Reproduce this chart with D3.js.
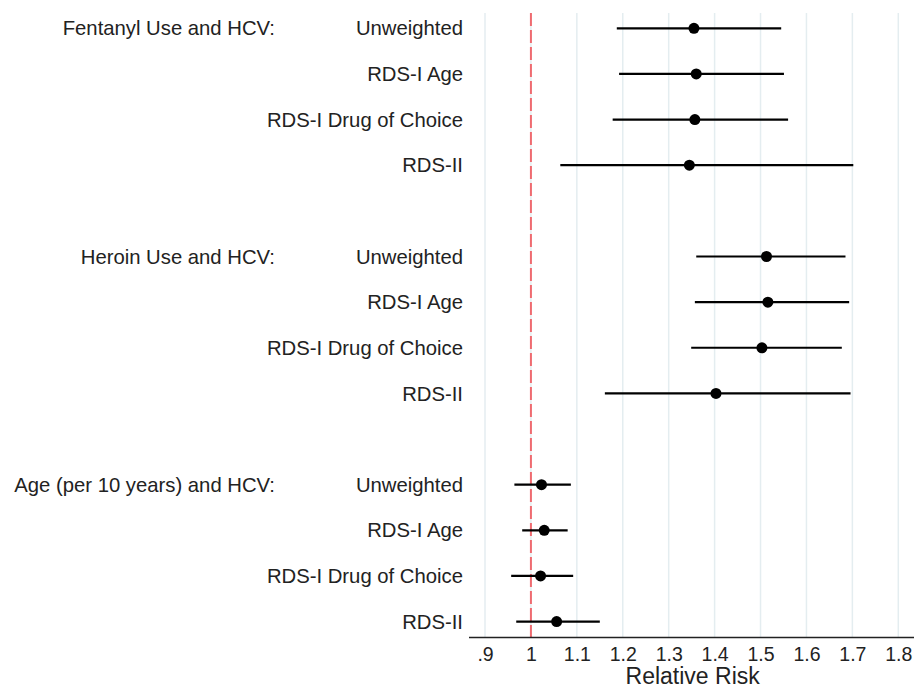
<!DOCTYPE html>
<html><head><meta charset="utf-8">
<script src="https://cdn.jsdelivr.net/npm/d3@7"></script>
<style>body{margin:0;background:#fff;}svg{display:block;font-family:Arial,"Liberation Sans",sans-serif;}</style>
</head><body><svg id="c" width="914" height="689"></svg>
<script>
const groups = ["Fentanyl Use and HCV:", "Heroin Use and HCV:", "Age (per 10 years) and HCV:"];
const methods = ["Unweighted", "RDS-I Age", "RDS-I Drug of Choice", "RDS-II"];
const estimates = [
  [1.355, 1.360, 1.357, 1.345],
  [1.513, 1.516, 1.503, 1.403],
  [1.023, 1.029, 1.021, 1.056]
];
const lower = [
  [1.187, 1.192, 1.178, 1.064],
  [1.360, 1.357, 1.349, 1.161],
  [0.964, 0.981, 0.957, 0.968]
];
const upper = [
  [1.545, 1.551, 1.560, 1.702],
  [1.685, 1.693, 1.677, 1.696],
  [1.087, 1.080, 1.092, 1.150]
];
const ticks = [0.9, 1.0, 1.1, 1.2, 1.3, 1.4, 1.5, 1.6, 1.7, 1.8];
const tickLabels = [".9", "1", "1.1", "1.2", "1.3", "1.4", "1.5", "1.6", "1.7", "1.8"];

const svg = d3.select("#c");
const x = d3.scaleLinear().domain([0.9, 1.8]).range([485, 898.3]);
const slots = d3.range(14);
const y = d3.scalePoint().domain(slots).range([28.3, 621.6]);

const rows = [];
groups.forEach((g, gi) => methods.forEach((m, mi) => {
  rows.push({g, m, gi, mi, slot: gi * 5 + mi, est: estimates[gi][mi], lo: lower[gi][mi], hi: upper[gi][mi]});
}));

// gridlines
svg.append("g").selectAll("line").data(ticks).join("line")
  .attr("x1", d => x(d)).attr("x2", d => x(d))
  .attr("y1", 13).attr("y2", 637)
  .attr("stroke", "#e4edf0").attr("stroke-width", 1.5);

// reference line
svg.append("line")
  .attr("x1", x(1)).attr("x2", x(1)).attr("y1", 13).attr("y2", 637)
  .attr("stroke", "#ef6b70").attr("stroke-width", 2).attr("stroke-dasharray", "13,4");

// x axis
const axis = d3.axisBottom(x).tickValues(ticks).tickFormat((d, i) => tickLabels[i]).tickSize(0).tickPadding(0);
const ax = svg.append("g").attr("transform", "translate(0,637.5)").call(axis);
ax.select(".domain").remove();
ax.selectAll("text").attr("y", 23).attr("dy", null).attr("font-size", 19.5).attr("fill", "#222")
  .attr("font-family", "Arial, 'Liberation Sans', sans-serif");
svg.append("line").attr("x1", 469).attr("x2", 914).attr("y1", 637.5).attr("y2", 637.5)
  .attr("stroke", "#222").attr("stroke-width", 1.6);

svg.append("text").attr("x", x(1.35) + 1).attr("y", 684.2).attr("text-anchor", "middle")
  .attr("font-size", 23).attr("fill", "#222").text("Relative Risk");

// CI lines
svg.append("g").selectAll("line").data(rows).join("line")
  .attr("x1", d => x(d.lo)).attr("x2", d => x(d.hi))
  .attr("y1", d => y(d.slot)).attr("y2", d => y(d.slot))
  .attr("stroke", "#000").attr("stroke-width", 2.2);
svg.append("g").selectAll("circle").data(rows).join("circle")
  .attr("cx", d => x(d.est)).attr("cy", d => y(d.slot)).attr("r", 5.5).attr("fill", "#000");

// labels
svg.append("g").selectAll("text").data(rows).join("text")
  .attr("x", 463).attr("y", d => y(d.slot)).attr("dy", "0.35em").attr("text-anchor", "end")
  .attr("font-size", 20.3).attr("fill", "#222").text(d => d.m);
svg.append("g").selectAll("text").data(groups).join("text")
  .attr("x", 275).attr("y", (d, i) => y(i * 5)).attr("dy", "0.35em").attr("text-anchor", "end")
  .attr("font-size", 20.3).attr("fill", "#222").text(d => d);
</script></body></html>
